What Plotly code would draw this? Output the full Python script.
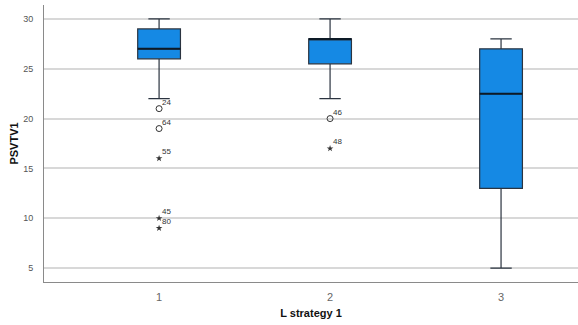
import plotly.graph_objects as go

groups = ["1", "2", "3"]
q1 = [26, 25.5, 13]
median = [27, 28, 22.5]
q3 = [29, 28, 27]
lower = [22, 22, 5]
upper = [30, 30, 28]

# outliers: (group index, value, case label)
circle_group = [0, 0, 1]
circle_vals = [21, 19, 20]
circle_labels = ["24", "64", "46"]
star_group = [0, 0, 0, 1]
star_vals = [16, 10, 9, 17]
star_labels = ["55", "45", "80", "48"]

xpos = list(range(len(groups)))
BW = 0.25
FONT = "Liberation Sans, Arial, sans-serif"

fig = go.Figure()
fig.add_trace(go.Box(
    x=xpos, q1=q1, median=median, q3=q3, lowerfence=lower, upperfence=upper,
    width=BW, whiskerwidth=0.5, fillcolor="#1589e4",
    line=dict(color="#2b3440", width=1.2), boxpoints=False, hoverinfo="skip",
    showlegend=False,
))
# thicker median lines
for i, m in enumerate(median):
    fig.add_trace(go.Scatter(
        x=[xpos[i] - BW / 2, xpos[i] + BW / 2], y=[m, m], mode="lines",
        line=dict(color="#0d1a26", width=2), showlegend=False, hoverinfo="skip"))

fig.add_trace(go.Scatter(
    x=[xpos[g] for g in circle_group], y=circle_vals, mode="markers",
    marker=dict(symbol="circle-open", size=6, color="#333", line=dict(width=1)),
    showlegend=False, hoverinfo="skip"))
fig.add_trace(go.Scatter(
    x=[xpos[g] for g in star_group], y=star_vals, mode="markers",
    marker=dict(symbol="star", size=5, color="#333"),
    showlegend=False, hoverinfo="skip"))

for g, v, t in list(zip(circle_group, circle_vals, circle_labels)) + list(zip(star_group, star_vals, star_labels)):
    fig.add_annotation(x=xpos[g], y=v, text=t, showarrow=False, xanchor="left",
                       yanchor="bottom", xshift=1, yshift=0,
                       font=dict(family=FONT, size=8, color="#333"))

fig.update_layout(
    width=578, height=325, margin=dict(l=44, r=0, t=5, b=43, autoexpand=False),
    paper_bgcolor="white", plot_bgcolor="white",
    font=dict(family=FONT, color="#333"),
    xaxis=dict(range=[-0.673, 2.45], tickmode="array", tickvals=xpos, ticktext=groups,
               automargin=False,
               showgrid=False, zeroline=False, showline=True, linecolor="#8a8a8a",
               linewidth=1, ticks="outside", ticklen=5, tickcolor="rgba(0,0,0,0)",
               tickfont=dict(size=11, color="#666"),
               title=dict(text="<b>L strategy 1</b>", font=dict(size=11, color="#111"), standoff=7)),
    yaxis=dict(range=[3.6, 31.4], tickvals=[5, 10, 15, 20, 25, 30],
               automargin=False,
               showgrid=True, gridcolor="#d8d8d8", gridwidth=1.5, zeroline=False,
               showline=True, linecolor="#8a8a8a", linewidth=1,
               ticks="outside", ticklen=8, tickcolor="rgba(0,0,0,0)",
               tickfont=dict(size=9, color="#555"),
               title=dict(text="<b>PSVTV1</b>", font=dict(size=11, color="#111"), standoff=2)),
)
fig.write_html("out.html", config={"displayModeBar": False},
               post_script="document.body.style.margin='0';document.body.style.overflow='hidden';")
